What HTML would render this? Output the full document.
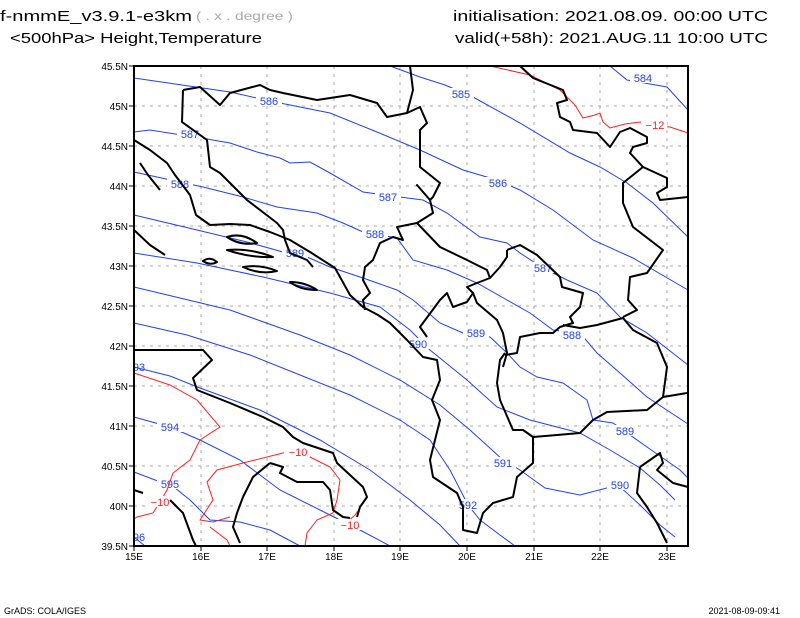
<!DOCTYPE html>
<html><head><meta charset="utf-8"><style>html,body{margin:0;padding:0;background:#fff}svg{display:block}</style></head>
<body>
<svg width="800" height="618" viewBox="0 0 800 618" xmlns="http://www.w3.org/2000/svg" font-family="Liberation Sans, sans-serif">
<rect width="800" height="618" fill="#fff"/>
<!-- header -->
<text x="0" y="21" font-size="15" textLength="192" lengthAdjust="spacingAndGlyphs">f-nmmE_v3.9.1-e3km</text>
<text x="196" y="20" font-size="12" fill="#aaa" textLength="97" lengthAdjust="spacingAndGlyphs">( . x . degree )</text>
<text x="10" y="43" font-size="15" textLength="252" lengthAdjust="spacingAndGlyphs">&lt;500hPa&gt; Height,Temperature</text>
<text x="453" y="21" font-size="15" textLength="315" lengthAdjust="spacingAndGlyphs">initialisation: 2021.08.09.   00:00 UTC</text>
<text x="455" y="43" font-size="15" textLength="313" lengthAdjust="spacingAndGlyphs">valid(+58h): 2021.AUG.11  10:00 UTC</text>
<!-- grid -->
<g stroke="#aaa" stroke-width="1" stroke-dasharray="3,5">
<path d="M201 66V546M267 66V546M334 66V546M400 66V546M467 66V546M534 66V546M600 66V546M667 66V546"/>
<path d="M134 106H688M134 146H688M134 186H688M134 226H688M134 266H688M134 306H688M134 346H688M134 386H688M134 426H688M134 466H688M134 506H688"/>
</g>
<!-- blue contours -->
<g fill="none" stroke="#2040ff" stroke-width="1">
<polyline points="610,66 627,80 667,87 688,110"/>
<polyline points="390,66 420,77 445,85 473,97 520,123 570,153 600,167 627,183 653,203 688,237"/>
<polyline points="134,78 230,92 270,101 330,113 377,132 420,150 463,170 497,180 520,190 553,210 593,240 633,258 688,290"/>
<polyline points="134,132 150,130 207,139 230,143 257,152 280,158 290,163 310,162 330,173 363,192 400,197 423,200 447,213 480,237 507,243 520,253 543,268 567,280 597,293 620,317 647,333 688,365"/>
<polyline points="134,172 203,187 243,197 277,207 317,213 343,223 363,232 397,238 413,260 447,270 477,283 507,300 530,313 553,330 580,333 597,353 620,373 647,397 688,424"/>
<polyline points="134,215 197,230 247,242 283,252 307,257 330,267 363,278 397,290 413,300 440,323 463,333 490,337 507,353 520,367 537,377 563,383 587,400 593,420 613,423 647,447 680,470 688,478"/>
<polyline points="134,253 197,263 263,277 330,293 380,307 410,330 430,350 467,380 497,407 530,420 580,433 610,450 640,468 660,485 675,500"/>
<polyline points="134,287 230,310 300,335 350,355 400,380 440,405 470,430 503,460 520,470 545,488 580,495 618,485 640,505 660,525 675,537"/>
<polyline points="134,323 187,335 250,355 300,375 350,395 400,420 430,440 450,470 468,505 480,520 500,535 515,546"/>
<polyline points="134,367 170,376 200,388 260,410 320,440 370,470 410,500 440,525 460,546"/>
<polyline points="134,417 170,427 200,440 240,460 280,490 320,510 360,530 390,546"/>
<polyline points="134,472 155,480 170,484 190,500 210,520 240,522 270,530 300,546"/>
<polyline points="134,537 145,546"/>
</g>
<g fill="#2040ff" font-size="11" text-anchor="middle">
<rect x="630" y="72" width="26" height="11" fill="#fff"/><text x="643" y="82">584</text>
<rect x="448" y="88" width="26" height="11" fill="#fff"/><text x="461" y="98">585</text>
<rect x="256" y="95" width="26" height="11" fill="#fff"/><text x="269" y="105">586</text>
<rect x="485" y="177" width="26" height="11" fill="#fff"/><text x="498" y="187">586</text>
<rect x="177" y="128" width="26" height="11" fill="#fff"/><text x="190" y="138">587</text>
<rect x="375" y="191" width="26" height="11" fill="#fff"/><text x="388" y="201">587</text>
<rect x="530" y="262" width="26" height="11" fill="#fff"/><text x="543" y="272">587</text>
<rect x="167" y="178" width="26" height="11" fill="#fff"/><text x="180" y="188">588</text>
<rect x="362" y="228" width="26" height="11" fill="#fff"/><text x="375" y="238">588</text>
<rect x="559" y="329" width="26" height="11" fill="#fff"/><text x="572" y="339">588</text>
<rect x="282" y="247" width="26" height="11" fill="#fff"/><text x="295" y="257">589</text>
<rect x="463" y="327" width="26" height="11" fill="#fff"/><text x="476" y="337">589</text>
<rect x="612" y="425" width="26" height="11" fill="#fff"/><text x="625" y="435">589</text>
<rect x="405" y="338" width="26" height="11" fill="#fff"/><text x="418" y="348">590</text>
<rect x="607" y="479" width="26" height="11" fill="#fff"/><text x="620" y="489">590</text>
<rect x="490" y="457" width="26" height="11" fill="#fff"/><text x="503" y="467">591</text>
<rect x="455" y="499" width="26" height="11" fill="#fff"/><text x="468" y="509">592</text>
<text x="139" y="371">93</text>
<rect x="157" y="421" width="26" height="11" fill="#fff"/><text x="170" y="431">594</text>
<rect x="157" y="478" width="26" height="11" fill="#fff"/><text x="170" y="488">595</text>
<text x="139" y="541">96</text>
</g>
<!-- red contours -->
<g fill="none" stroke="#ff2020" stroke-width="1">
<polyline points="490,66 530,75 560,90 575,105 583,118 595,115 600,113 603,122 610,128 625,124 640,122 655,126 670,127 688,133"/>
<polyline points="134,373 170,385 197,400 220,427 200,440 190,460 173,473 167,490 160,502 153,513 137,517 134,519"/>
<polyline points="298,452 283,453 243,463 217,470 207,482 213,500 200,520 213,522 230,517"/>
<polyline points="210,527 227,540 230,546"/>
<polyline points="298,452 310,457 330,467 340,480 337,500 333,513 317,520 307,533 305,546"/>
<polyline points="345,524 355,515 360,508"/>
</g>
<g fill="#ff2020" font-size="11" text-anchor="middle">
<rect x="641" y="119" width="26" height="11" fill="#fff"/><text x="655" y="129">−12</text>
<rect x="284" y="446" width="26" height="11" fill="#fff"/><text x="298" y="456">−10</text>
<rect x="147" y="496" width="26" height="11" fill="#fff"/><text x="160" y="506">−10</text>
<rect x="337" y="519" width="26" height="11" fill="#fff"/><text x="350" y="529">−10</text>
</g>
<!-- coastlines/borders -->
<g fill="none" stroke="#000" stroke-width="2" stroke-linejoin="round">
<polyline points="134,140 150,150 167,163 175,175 190,195 196,215 210,225 230,224 250,225 270,232 290,240 310,252 335,268 350,295 363,307 378,315 390,323 407,340 423,357 437,360 440,380 432,400 440,420 435,440 430,460 433,477 457,493 463,507 463,530 477,533 483,513 493,503 513,497 517,477 533,463 533,437"/>
<polyline points="140,163 148,175 160,190"/>
<polyline points="134,350 203,350 212,360 193,378 197,390 230,403 263,417 283,427 293,437 303,443 333,453 337,463 363,487 367,497 360,507 357,517"/>
<polyline points="270,463 283,467 280,473 297,482 323,482 330,490 333,510 343,517 350,518"/>
<polyline points="270,463 253,477 243,497 237,513 233,527 240,543"/>
<polyline points="170,500 183,513 193,540 196,546"/>
<polyline points="134,490 143,493"/>
<polyline points="183,90 200,87 220,105 230,93 260,85 270,90 283,93 317,100 350,95 377,103 387,117 407,113 413,90 410,66"/>
<polyline points="183,90 182,122 207,140 210,167 220,173 247,200 277,223 283,230 285,240 290,253 307,260 313,267"/>
<polyline points="407,113 420,107 427,123 420,130 420,150 420,167 440,183 433,197 430,200 417,185 430,200 433,213 417,223 397,227 403,240 393,237 380,243 373,260 365,267 363,280 370,293 363,300 365,310"/>
<polyline points="417,223 440,247 467,260 487,270 490,278 477,283 467,287 473,293 467,302 453,307 447,293 440,300 420,327 427,337"/>
<polyline points="473,293 477,303 497,320 503,333 507,353 503,367"/>
<polyline points="490,278 500,267 507,257 507,250"/>
<polyline points="507,250 520,245 537,255 560,277 562,287 583,293 580,307 570,317 573,323 560,327 553,333 547,333 540,333 520,337 517,353 505,355"/>
<polyline points="563,325 580,328 597,325 623,318 633,330 657,343 667,367 663,397 687,393"/>
<polyline points="663,397 647,410 607,412 593,420 580,433 557,435 533,437 523,430 513,430 500,400 497,383 500,360 505,353"/>
<polyline points="520,66 533,78 563,90 567,100 557,103 560,117 570,122 573,130 597,133 610,147 620,132 630,128 647,137 647,143 633,147 630,153 643,167 667,178 667,187 657,193 660,200 688,197"/>
<polyline points="643,167 623,183 623,203 633,227 663,250 647,273 630,277 628,300 637,310 623,317"/>
<polyline points="640,467 660,453 663,463 657,470 673,483 688,487"/>
<polyline points="640,467 637,493 647,507 657,523 667,543"/>
<polyline points="134,230 150,245 165,255"/>
<path d="M227,237 Q242,232 257,243 Q240,246 227,237Z"/>
<path d="M227,250 Q250,248 273,257 Q250,258 227,250Z"/>
<path d="M203,261 Q210,256 217,262 Q210,266 203,261Z"/>
<path d="M243,267 Q260,264 277,271 Q260,275 243,267Z"/>
<path d="M290,282 Q305,282 317,290 Q300,290 290,282Z"/>
</g>
<!-- frame & ticks -->
<rect x="134" y="66" width="554" height="480" fill="none" stroke="#000" stroke-width="2"/>
<g stroke="#000" stroke-width="1">
<path d="M134 546v5M201 546v5M267 546v5M334 546v5M400 546v5M467 546v5M534 546v5M600 546v5M667 546v5"/>
<path d="M129 66h5M129 106h5M129 146h5M129 186h5M129 226h5M129 266h5M129 306h5M129 346h5M129 386h5M129 426h5M129 466h5M129 506h5M129 546h5"/>
</g>
<g font-size="10" text-anchor="end">
<text x="128" y="70">45.5N</text><text x="128" y="110">45N</text><text x="128" y="150">44.5N</text><text x="128" y="190">44N</text><text x="128" y="230">43.5N</text><text x="128" y="270">43N</text><text x="128" y="310">42.5N</text><text x="128" y="350">42N</text><text x="128" y="390">41.5N</text><text x="128" y="430">41N</text><text x="128" y="470">40.5N</text><text x="128" y="510">40N</text><text x="128" y="550">39.5N</text>
</g>
<g font-size="10" text-anchor="middle">
<text x="134" y="560">15E</text><text x="201" y="560">16E</text><text x="267" y="560">17E</text><text x="334" y="560">18E</text><text x="400" y="560">19E</text><text x="467" y="560">20E</text><text x="534" y="560">21E</text><text x="600" y="560">22E</text><text x="667" y="560">23E</text>
</g>
<text x="4" y="614" font-size="9">GrADS: COLA/IGES</text>
<text x="780" y="614" font-size="9" text-anchor="end">2021-08-09-09:41</text>
</svg>
</body></html>
